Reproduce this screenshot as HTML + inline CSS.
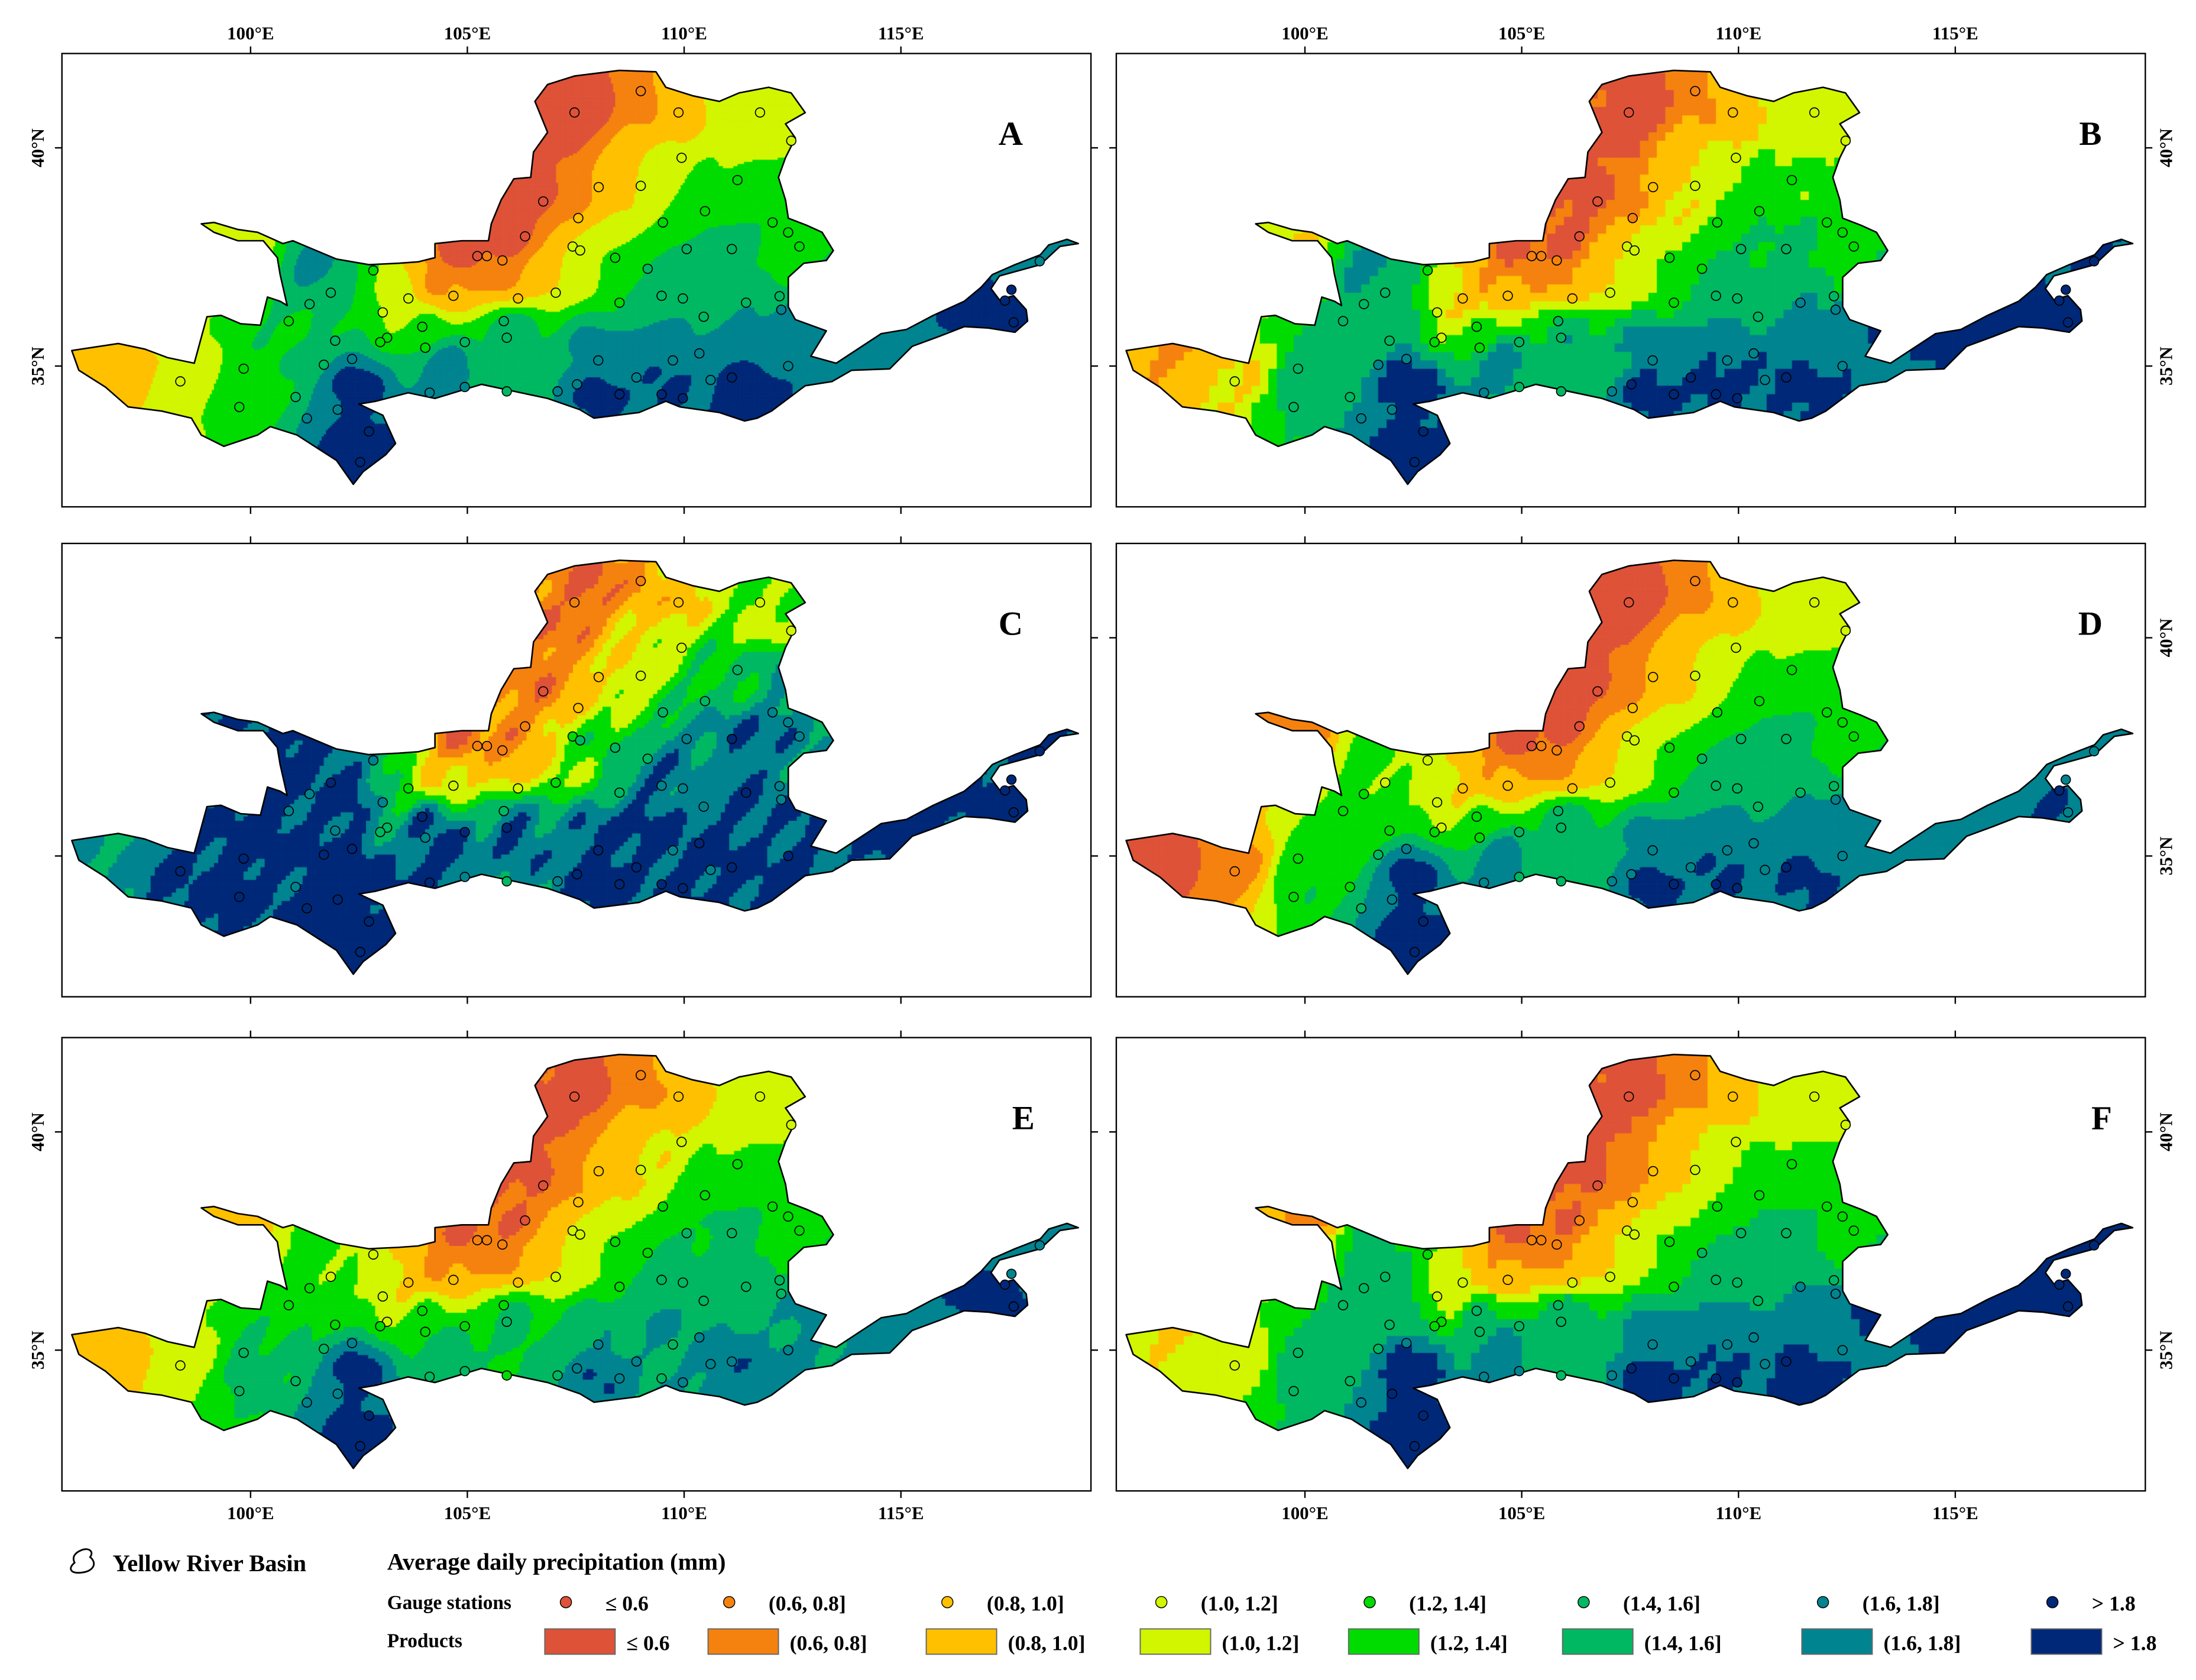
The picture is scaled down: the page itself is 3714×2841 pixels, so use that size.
<!DOCTYPE html>
<html><head><meta charset="utf-8">
<style>
html,body{margin:0;padding:0;background:#fff;}
#wrap{position:relative;width:3714px;height:2841px;overflow:hidden;}
#ras{position:absolute;left:0;top:0;}
#fig{position:absolute;left:0;top:0;}
text{font-family:"Liberation Serif",serif;font-weight:bold;fill:#000;}
</style></head>
<body>
<div id="wrap">
<canvas id="ras" width="3714" height="2841"></canvas>
<svg id="fig" width="3714" height="2841" viewBox="0 0 1560 1193.3"></svg>
</div>
<script>
// ---- data ----
const classBreaks = [0.6, 0.8, 1.0, 1.2, 1.4, 1.6, 1.8];
const classColors = ['#DE5238','#F5820F','#FFC000','#D2F500','#00DC00','#00B862','#008490','#002878'];
const classLabels = ['\u2264 0.6','(0.6, 0.8]','(0.8, 1.0]','(1.0, 1.2]','(1.2, 1.4]','(1.4, 1.6]','(1.6, 1.8]','> 1.8'];
const lonTicks = [100, 105, 110, 115];
const latTicks = [35, 40];
const panelLetters = ['A','B','C','D','E','F'];
// precipitation anchor locations (lon, lat)
const anchorLon = [107.7,106.56,105.97,109.0,107.4,105.75,104.4,109.8,108.5,106.75,111.1,111.9,109.4,107.7,110.45,108.35,112.2,112.4,109.8,111.1,109.0,109.5,107.86,103.5,104.0,102.0,100.0,101.5,97.0,98.5,100.0,101.0,102.5,102.5,104.5,109.5,108.0,111.5,112.0,113.0,115.0,117.0,118.0,106.0,106.8,105.3,104.9];
const anchorLat = [41.1,39.3,37.97,41.1,39.3,37.06,36.8,41.0,39.3,37.06,40.8,40.2,39.3,37.06,38.87,37.06,39.35,37.6,37.06,37.7,36.45,35.65,35.5,36.3,35.8,36.5,37.8,37.3,35.0,34.8,34.5,35.5,34.5,33.0,35.0,34.7,34.3,34.5,35.5,36.0,35.8,36.2,37.2,35.8,40.3,38.6,37.6];
// anchor values (mm/day) per product
const valuesA = [0.4,0.4,0.45,0.7,0.7,0.7,0.75,0.9,0.9,0.9,1.1,1.1,1.1,1.1,1.3,1.3,1.3,1.3,1.5,1.5,1.5,1.7,1.7,1.1,1.35,1.4,1.1,1.7,0.9,1.05,1.35,1.4,1.9,1.95,1.75,1.85,1.85,1.95,1.65,1.7,1.75,1.95,1.7,1.6,0.4,0.4,0.45];
const valuesB = [0.45,0.45,0.5,0.7,0.7,0.7,0.8,0.9,0.9,0.9,1.1,1.1,1.1,1.05,1.3,1.3,1.3,1.3,1.5,1.5,1.45,1.75,1.75,1.0,1.3,1.5,1.0,1.7,0.8,1.0,1.5,1.55,1.95,1.95,1.75,1.9,1.85,1.9,1.7,1.75,1.9,1.95,1.8,1.6,0.45,0.45,0.5];
const valuesC = [0.55,0.6,0.65,0.75,0.8,0.85,0.9,0.95,1.0,1.0,1.15,1.15,1.2,1.2,1.4,1.5,1.6,1.7,1.7,1.8,1.75,1.9,1.9,1.4,1.8,1.9,1.9,1.9,1.6,1.9,1.9,1.9,2.0,2.0,1.9,1.9,1.9,1.9,1.85,1.8,1.9,1.95,1.9,1.85,0.6,0.65,0.6];
const valuesD = [0.45,0.45,0.5,0.7,0.7,0.7,0.8,0.9,0.9,0.9,1.1,1.1,1.05,1.05,1.3,1.3,1.3,1.3,1.5,1.5,1.5,1.75,1.7,1.0,1.3,1.2,0.65,1.3,0.5,0.75,1.4,1.3,1.9,1.95,1.75,1.85,1.85,1.85,1.7,1.7,1.7,1.8,1.75,1.6,0.4,0.45,0.5];
const valuesE = [0.5,0.5,0.55,0.7,0.75,0.7,0.75,0.85,0.9,0.9,1.05,1.1,1.05,1.05,1.3,1.3,1.3,1.3,1.45,1.5,1.45,1.65,1.6,1.0,1.3,1.2,0.95,1.3,0.9,1.1,1.45,1.4,1.9,1.9,1.55,1.6,1.8,1.8,1.6,1.65,1.7,1.9,1.7,1.5,0.45,0.5,0.55];
const valuesF = [0.5,0.5,0.55,0.7,0.7,0.75,0.8,0.9,0.9,0.9,1.1,1.1,1.1,1.1,1.3,1.3,1.35,1.3,1.5,1.5,1.5,1.75,1.7,1.05,1.45,1.5,0.75,1.5,1.0,1.1,1.5,1.45,1.95,1.95,1.75,1.85,1.9,1.9,1.7,1.85,1.9,1.95,1.9,1.6,0.45,0.5,0.55];
const panelValues = [valuesA, valuesB, valuesC, valuesD, valuesE, valuesF];
const fieldNoise = [0.05, 0.10, 0.20, 0.05, 0.06, 0.05];
const fieldCell = [1.5, 6, 3, 2, 2.5, 6];
// basin outline traced in reference-figure units (panel A frame), converted to lon/lat below
const outlineX = [51,84,103,119,138,147,157,171,185,190,199,204,199,197,187,169,152,143,152,169,183,201,208,239,262,283,297,309,309,328,347,349,356,365,377,379,389,380,389,408,440,466,473,492,511,525,546,562,572,558,565,558,553,558,560,573,584,592,587,571,560,560,565,587,576,594,626,644,663,685,697,705,721,739,745,758,766,753,739,710,704,710,720,729,730,721,702,685,667,648,632,605,591,572,548,538,529,511,483,473,454,422,412,389,342,309,290,267,255,272,281,274,258,251,239,211,192,183,159,143,136,115,91,75,56];
const outlineY = [249,244,248,254,258,225,224,230,231,211,214,217,195,183,171,171,165,159,158,163,165,173,171,184,188,187,186,183,173,171,171,159,142,127,126,108,94,72,60,54,50,51,62,68,72,66,62,66,80,88,98,112,126,142,155,160,165,178,185,187,197,218,227,235,253,258,237,234,224,214,204,195,188,181,174,170,173,175,188,196,205,213,210,220,228,236,233,232,239,246,262,263,271,274,292,297,299,293,289,285,293,297,291,283,273,283,279,285,287,295,315,323,335,344,327,309,303,309,317,309,297,292,289,275,263];
const basinLon = outlineX.map(x => 100 + (x - 178) / 30.8);
const basinLat = outlineY.map(y => 40 - (y - 105) / 31);
// gauge stations (lon, lat)
const stationLon = [107.47,109.00,109.87,111.75,112.47,109.94,111.23,108.03,109.00,106.75,107.56,109.51,110.48,112.04,106.33,105.45,105.23,105.81,107.43,107.60,108.41,109.16,110.06,111.10,112.40,112.66,102.83,101.85,101.36,100.88,101.95,103.05,103.64,104.68,103.96,103.15,104.03,104.94,105.84,105.91,106.17,107.04,108.51,109.48,109.97,110.45,111.43,112.24,112.20,112.40,111.10,110.35,109.74,108.90,108.02,107.53,107.08,108.51,109.48,109.97,110.61,105.91,104.94,104.13,102.99,102.34,101.69,101.04,99.84,99.74,98.38,101.30,102.01,102.73,102.53,117.60,117.40,117.55,118.20];
const stationLat = [40.81,41.30,40.81,40.81,40.16,39.77,39.26,39.10,39.13,38.77,38.39,38.29,38.55,38.29,37.97,37.52,37.52,37.42,37.74,37.65,37.48,37.23,37.68,37.68,38.06,37.74,37.19,36.68,36.42,36.03,35.58,36.23,36.55,36.61,35.90,35.65,35.42,35.55,36.03,35.65,36.55,36.68,36.45,36.61,36.55,36.13,36.45,36.29,36.60,35.00,34.74,35.29,35.13,34.74,35.13,34.58,34.42,34.35,34.35,34.26,34.68,34.42,34.52,34.39,35.55,35.16,35.03,34.29,34.94,34.06,34.65,33.80,34.00,33.50,32.80,36.00,36.50,36.75,37.40];

// ---- geometry helpers ----
const S = 3714/1560;
const NS = 'http://www.w3.org/2000/svg';
const panels = [
  {x:44,y:38},{x:793,y:38},{x:44,y:386},{x:793,y:386},{x:44,y:737},{x:793,y:737}
];
const letterDx = [674, 692, 674, 692, 683, 700];
const PW = 731, PH = 322;
function xOf(p, lon){ return p.x + 134 + (lon - 100) * 30.8; }
function yOf(p, lat){ return p.y + 67 - (lat - 40) * 31; }
function lonOf(p, x){ return 100 + (x - p.x - 134) / 30.8; }
function latOf(p, y){ return 40 - (y - p.y - 67) / 31; }
function classOf(v){ let i=0; while(i<classBreaks.length && v>classBreaks[i]) i++; return i; }
function field(i, lon, lat){
  const vals = panelValues[i];
  let sw=0, sv=0;
  for(let k=0;k<anchorLon.length;k++){
    const d2 = (lon-anchorLon[k])**2 + (lat-anchorLat[k])**2 + 0.05;
    const w = 1/Math.pow(d2, 1.5);
    sw += w; sv += w*vals[k];
  }
  const nz = 0.5*Math.sin(lon*2.1+lat*1.3)*Math.cos(lat*2.7-lon*0.8) + 0.5*Math.sin(lon*5.3-lat*4.1);
  return sv/sw + fieldNoise[i]*nz;
}
function el(tag, attrs, parent){
  const e=document.createElementNS(NS,tag);
  for(const k in attrs) e.setAttribute(k, attrs[k]);
  (parent||svg).appendChild(e); return e;
}
const svg=document.getElementById('fig');
const ctx=document.getElementById('ras').getContext('2d');
ctx.setTransform(S,0,0,S,0,0);

// ---- draw panels ----
panels.forEach((p, i) => {
  const g = el('g', {});
  
  
  ctx.save();
  ctx.beginPath();
  basinLon.forEach((lon,k)=>{ const X=xOf(p,lon), Y=yOf(p,basinLat[k]); k?ctx.lineTo(X,Y):ctx.moveTo(X,Y); });
  ctx.closePath(); ctx.clip();
  const c = fieldCell[i];
  for(let y=p.y+8; y<p.y+PH; y+=c){
    for(let x=p.x; x<p.x+PW; x+=c){
      const v = field(i, lonOf(p,x+c/2), latOf(p,y+c/2));
      ctx.fillStyle = classColors[classOf(v)];
      ctx.fillRect(x, y, c+0.3, c+0.3);
    }
  }
  ctx.restore();
  const fr = el('rect', {x:p.x, y:p.y, width:PW, height:PH, fill:'none', stroke:'#000', 'stroke-width':1}, g);
  
  
  lonTicks.forEach(lon=>{
    const X=xOf(p,lon);
    el('line',{x1:X,y1:p.y,x2:X,y2:p.y-5,stroke:'#000','stroke-width':1},g);
    el('line',{x1:X,y1:p.y+PH,x2:X,y2:p.y+PH+5,stroke:'#000','stroke-width':1},g);
  });
  latTicks.forEach(lat=>{
    const Y=yOf(p,lat);
    el('line',{x1:p.x,y1:Y,x2:p.x-5,y2:Y,stroke:'#000','stroke-width':1},g);
    el('line',{x1:p.x+PW,y1:Y,x2:p.x+PW+5,y2:Y,stroke:'#000','stroke-width':1},g);
  });
  const d = basinLon.map((lon,k)=>(k?'L':'M')+xOf(p,lon).toFixed(1)+','+yOf(p,basinLat[k]).toFixed(1)).join('')+'Z';
  const ol = el('path',{d:d, fill:'none', stroke:'#000', 'stroke-width':1.1, 'stroke-linejoin':'round'}, g);
  
  
  stationLon.forEach((lon,k)=>{
    const v = field(i, lon, stationLat[k]);
    const c2 = el('circle',{cx:xOf(p,lon).toFixed(1), cy:yOf(p,stationLat[k]).toFixed(1), r:3.3, fill:classColors[classOf(v)], stroke:'#000','stroke-width':0.7}, g);
    
    
  });
  const lt = el('text',{x:p.x+letterDx[i], y:p.y+65, 'font-size':24, 'text-anchor':'middle'}, g);
  lt.textContent = panelLetters[i];
  
  
  const left = (i%2===0), top = (i<2), bottom = (i>=4);
  if(top || bottom){
    lonTicks.forEach(lon=>{
      const t = el('text',{x:xOf(p,lon), y: top ? p.y-10 : p.y+PH+20, 'font-size':13, 'text-anchor':'middle'}, g);
      t.textContent = lon + '\u00B0E';
      
      
    });
  }
  if(i!==2){
    latTicks.forEach(lat=>{
      const Y=yOf(p,lat);
      const X = left ? p.x-13 : p.x+PW+19;
      const t = el('text',{x:X, y:Y, 'font-size':13, 'text-anchor':'middle', transform:'rotate(-90 '+X+' '+Y+')'}, g);
      t.textContent = lat + '\u00B0N';
      
      
    });
  }
});

// ---- legend ----
const lg = el('g', {});


const icon = el('path',{d:'M58,1101 C63,1099 67,1102 64,1106 C69,1110 67,1116 58,1117 C50,1118 48,1114 53,1110 C51,1106 53,1103 58,1101 Z', fill:'none', stroke:'#000','stroke-width':1.2}, lg);


const t1 = el('text',{x:80,y:1116,'font-size':17},lg); t1.textContent='Yellow River Basin';
 
const t2 = el('text',{x:275,y:1115,'font-size':17},lg); t2.textContent='Average daily precipitation (mm)';
 
const t3 = el('text',{x:275,y:1143,'font-size':14},lg); t3.textContent='Gauge stations';
 
const t4 = el('text',{x:275,y:1170,'font-size':14},lg); t4.textContent='Products';
 
const rectX = [387,503,658,810,958,1110,1280,1443];
classColors.forEach((col,k)=>{
  const dot = el('circle',{cx:rectX[k]+15, cy:1138, r:4, fill:col, stroke:'#000','stroke-width':0.6},lg);
  
  
  const la = el('text',{x:rectX[k]+43,y:1144,'font-size':15},lg); la.textContent=classLabels[k];
   
  const r = el('rect',{x:rectX[k],y:1157,width:50,height:18,fill:col,stroke:'#666','stroke-width':0.8},lg);
  
  
  const lb = el('text',{x:rectX[k]+58,y:1172,'font-size':15},lg); lb.textContent=classLabels[k];
   
});
</script>
</body></html>
